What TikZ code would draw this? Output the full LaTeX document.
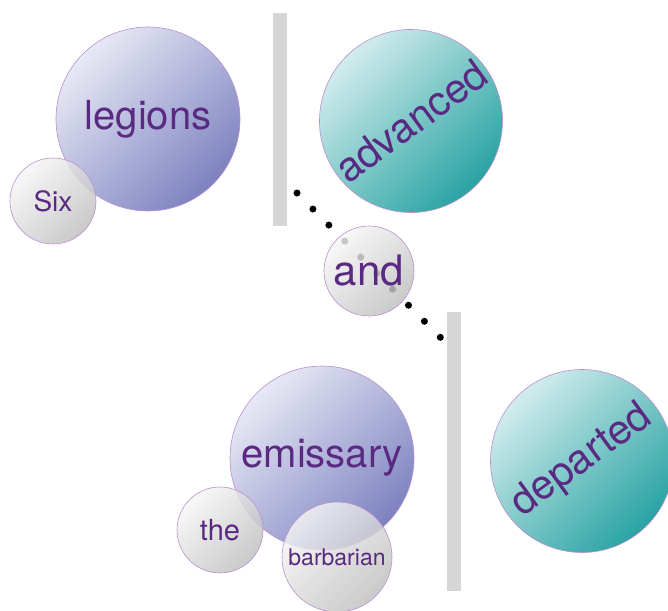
\documentclass[tikz,border=0pt]{standalone}
\usepackage{fontspec}
\setmainfont{TeX Gyre Heros}
\usepackage{tikz}

\definecolor{wordink}{HTML}{5A2A82}
\definecolor{ringline}{HTML}{B98FD0}
\definecolor{lavlight}{HTML}{E8E9F5}
\definecolor{lavdark}{HTML}{7D82C0}
\definecolor{teallight}{HTML}{DDF1F2}
\definecolor{tealdark}{HTML}{1E9E9E}
\definecolor{greylight}{HTML}{F6F6F6}
\definecolor{greydark}{HTML}{BEBEBE}
\definecolor{barfill}{HTML}{D6D6D6}

\begin{document}
\begin{tikzpicture}[x=1pt,y=-1pt]
				\tikzstyle{word}=[circle,draw=ringline,line width=0.6pt,inner sep=0pt,text=wordink]
				\tikzstyle{noun}=[word,top color=lavlight,bottom color=lavdark,shading angle=45,minimum size=184pt,font=\fontsize{40}{40}\selectfont]
				\tikzstyle{verb}=[word,top color=teallight,bottom color=tealdark,shading angle=45,rotate=36,minimum size=183pt,font=\fontsize{41}{41}\selectfont]
				\tikzstyle{minor}=[word,top color=greylight,bottom color=greydark,shading angle=45,fill opacity=0.82,text opacity=1]
				\tikzstyle{bar}=[rectangle,fill=barfill,draw=none,minimum width=14pt,inner sep=0pt]
				\useasboundingbox (0,0) rectangle (668,610);

				\node[bar,minimum height=213pt](bar1) at (280,119.5){};
				\node[bar,minimum height=279pt](bar2) at (454,451.5){};
				\coordinate (d1) at (297,193);
				\coordinate (d2) at (441,338);
				\draw[line width=7pt,line cap=round,dash pattern=on 0pt off 22.6pt] (d1) -- (d2);

				\node[noun](legions) at (148,119){legions};
				\node[minor,minimum size=86pt,font=\fontsize{28}{28}\selectfont](six) at (53,201){Six};
				\node[verb](advanced) at (411,121){advanced};
				\node[minor,minimum size=90pt,font=\fontsize{42}{42}\selectfont](and) at (369,271){and};
				\node[noun](emissary) at (322,458){emissary};
				\node[minor,minimum size=86pt,font=\fontsize{29}{29}\selectfont](the) at (220,530){the};
				\node[minor,minimum size=110pt,font=\fontsize{23}{23}\selectfont](barbarian) at (337,557){barbarian};
				\node[verb](departed) at (582,461){departed};
			\end{tikzpicture}
\end{document}
